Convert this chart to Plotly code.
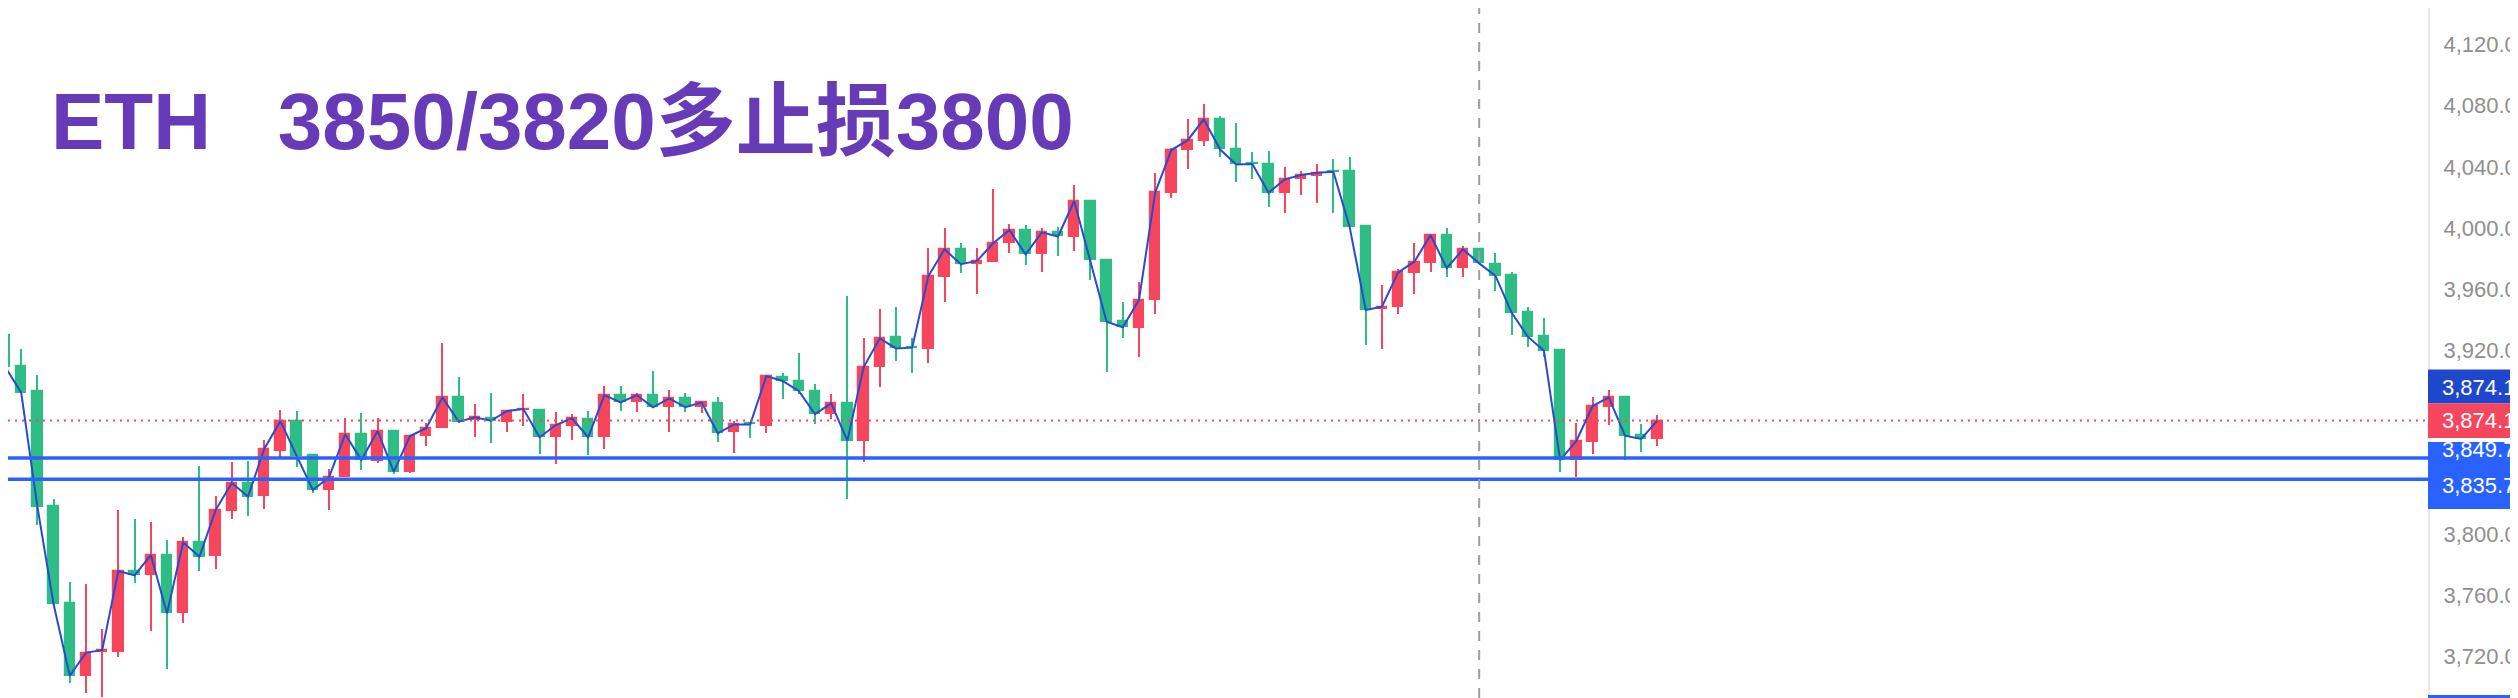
import plotly.graph_objects as go

# ---- data ----
opens = [3930.1, 3909.8, 3893.5, 3818.3, 3754.8, 3707.3, 3723.0, 3723.0, 3775.8, 3772.9,
         3786.2, 3748.1, 3794.5, 3785.8, 3815.2, 3833.3, 3825.0, 3854.2, 3873.8, 3851.6,
         3828.7, 3837.4, 3865.1, 3847.7, 3867.3, 3840.7, 3864.0, 3869.1, 3889.7, 3874.5,
         3875.6, 3873.0, 3881.0, 3881.0, 3863.2, 3870.6, 3875.2, 3863.2, 3890.8, 3886.0,
         3890.8, 3882.8, 3888.6, 3882.8, 3885.4, 3866.9, 3872.3, 3870.6, 3902.8, 3900.0,
         3893.5, 3878.4, 3885.4, 3861.0, 3908.9, 3928.5, 3922.5, 3920.7, 3968.2, 3986.1,
         3976.3, 3978.0, 3990.4, 3998.7, 3982.8, 3997.2, 3994.4, 4017.7, 3979.1, 3939.4,
         3934.9, 3953.0, 4023.1, 4050.8, 4056.9, 4071.1, 4051.5, 4042.5, 4041.6, 4023.1,
         4031.8, 4034.2, 4037.3, 4037.3, 4001.3, 3946.9, 3948.6, 3970.8, 3977.4, 3995.4,
         3973.7, 3986.1, 3976.3, 3969.3, 3944.9, 3929.4, 3920.2, 3848.3, 3860.3, 3883.2,
         3889.3, 3864.7, 3861.9]
highs = [3933.3, 3920.7, 3903.7, 3822.6, 3768.4, 3767.0, 3737.6, 3815.4, 3809.5, 3807.8,
         3796.0, 3798.2, 3844.4, 3824.8, 3846.8, 3847.9, 3861.4, 3881.0, 3880.4, 3852.3,
         3842.2, 3875.6, 3878.8, 3875.6, 3868.0, 3864.7, 3872.7, 3925.0, 3902.4, 3884.7,
         3891.9, 3880.8, 3891.3, 3881.2, 3879.5, 3878.2, 3880.4, 3896.7, 3896.7, 3891.9,
         3906.5, 3894.1, 3891.9, 3887.1, 3889.3, 3874.1, 3873.4, 3903.5, 3905.0, 3918.1,
         3897.8, 3891.3, 3955.6, 3927.9, 3946.8, 3948.1, 3927.9, 3986.7, 3999.8, 3990.0,
         3986.7, 4025.3, 4002.4, 4002.0, 3999.8, 4000.5, 4028.1, 4018.0, 3979.5, 3951.9,
         3965.0, 4035.8, 4052.1, 4071.1, 4081.1, 4073.3, 4068.5, 4049.9, 4050.6, 4040.1,
         4037.5, 4041.6, 4044.9, 4046.7, 4001.3, 3962.8, 3973.0, 3990.0, 3996.1, 3999.8,
         3988.3, 3986.7, 3983.5, 3971.0, 3948.6, 3941.0, 3920.4, 3872.3, 3889.3, 3894.1,
         3890.2, 3871.9, 3877.8]
lows = [3908.5, 3892.0, 3805.8, 3753.5, 3702.7, 3695.8, 3693.2, 3719.3, 3768.1, 3736.8,
        3711.9, 3742.0, 3776.0, 3777.3, 3809.8, 3811.9, 3816.3, 3850.1, 3843.5, 3826.6,
        3815.6, 3837.0, 3841.8, 3846.2, 3839.0, 3840.0, 3857.7, 3869.0, 3872.3, 3863.2,
        3859.7, 3866.9, 3870.6, 3852.3, 3845.5, 3861.4, 3851.6, 3855.5, 3880.6, 3879.9,
        3882.6, 3866.9, 3879.9, 3878.8, 3860.3, 3853.1, 3862.9, 3866.2, 3888.0, 3891.3,
        3871.6, 3874.9, 3822.6, 3847.0, 3895.9, 3913.3, 3905.0, 3911.5, 3951.9, 3970.8,
        3956.6, 3977.8, 3983.5, 3975.8, 3971.5, 3981.7, 3985.2, 3966.0, 3906.1, 3927.9,
        3915.9, 3943.6, 4019.4, 4038.4, 4053.6, 4046.2, 4030.3, 4031.9, 4013.5, 4009.6,
        4021.6, 4016.2, 4010.0, 4000.9, 3923.5, 3920.7, 3943.6, 3956.7, 3971.5, 3968.2,
        3968.2, 3976.5, 3959.0, 3930.1, 3922.4, 3915.9, 3840.7, 3837.4, 3852.3, 3871.2,
        3848.3, 3853.8, 3857.5]
closes = [3909.4, 3892.4, 3817.8, 3754.0, 3707.3, 3722.4, 3724.0, 3775.8, 3772.9, 3786.2,
          3748.1, 3794.5, 3785.1, 3815.6, 3833.3, 3824.4, 3855.5, 3873.8, 3851.2, 3828.7,
          3837.0, 3865.1, 3848.3, 3867.3, 3840.7, 3864.0, 3869.1, 3889.3, 3873.4, 3876.2,
          3874.0, 3880.4, 3881.6, 3863.2, 3871.2, 3875.6, 3863.2, 3890.8, 3886.0, 3890.8,
          3882.8, 3888.6, 3882.8, 3886.0, 3865.8, 3871.6, 3871.6, 3903.3, 3900.0, 3893.5,
          3878.4, 3885.4, 3861.0, 3908.9, 3927.9, 3921.3, 3921.8, 3968.6, 3986.1, 3976.3,
          3978.5, 3990.0, 3998.7, 3982.8, 3997.2, 3994.5, 4017.7, 3979.1, 3938.8, 3935.1,
          3953.0, 4023.3, 4051.0, 4057.3, 4071.1, 4051.5, 4041.6, 4041.8, 4023.1, 4031.8,
          4034.7, 4036.2, 4036.8, 4000.9, 3946.4, 3948.6, 3971.0, 3978.0, 3995.4, 3973.7,
          3986.1, 3976.9, 3968.9, 3944.7, 3929.0, 3919.8, 3848.3, 3860.8, 3883.6, 3889.3,
          3864.2, 3862.1, 3874.1]
bar_index = list(range(1, len(closes) + 1))

level_lines = [3849.7, 3835.7]          # blue horizontal levels
marker_bar = 92                          # vertical dashed marker
tick_values = [3720, 3760, 3800, 3920, 3960, 4000, 4040, 4080, 4120]
title_text = "ETH\u00a0\u00a0\u00a03850/3820多止损3800"

# ---- styles ----
UP = "#F6465D"      # rising candles are red
DOWN = "#2EBD85"    # falling candles are green
LINE_BLUE = "#2A4AD4"
LEVEL_BLUE = "#2962FF"
LABEL_DARK = "#1F47CC"
AXIS_FONT = "Liberation Sans, Arial, sans-serif"

# the page body adds an 8 px margin; the figure is sized so it still ends at the window edge
W, H = 2510, 690
PLOT_W = W - 90

colors = [UP if c >= o else DOWN for o, c in zip(opens, closes)]
body_base = [min(o, c) for o, c in zip(opens, closes)]
body_len = [abs(c - o) for o, c in zip(opens, closes)]
wick_len = [h - l for h, l in zip(highs, lows)]

fig = go.Figure()
fig.add_trace(go.Bar(
    x=bar_index, y=wick_len, base=lows, width=0.13,
    marker=dict(color=colors, line=dict(width=0)),
    showlegend=False, hoverinfo="skip",
))
fig.add_trace(go.Bar(
    x=bar_index, y=body_len, base=body_base, width=0.64,
    marker=dict(color=colors, line=dict(color=colors, width=1.2)),
    showlegend=False, hoverinfo="skip",
))
fig.add_trace(go.Scatter(
    x=bar_index, y=closes, mode="lines",
    line=dict(color=LINE_BLUE, width=2), showlegend=False, hoverinfo="skip",
))

last = closes[-1]
shapes = []
shapes.append(dict(type="line", xref="paper", x0=0, x1=1, yref="y", y0=last, y1=last,
                   line=dict(color=UP, width=2, dash="2px,5px"), layer="above"))
for lv in level_lines:
    shapes.append(dict(type="line", xref="paper", x0=0, x1=1, yref="y", y0=lv, y1=lv,
                       line=dict(color=LEVEL_BLUE, width=3.5), layer="above"))
shapes.append(dict(type="line", xref="x", x0=marker_bar, x1=marker_bar, yref="paper", y0=0, y1=1,
                   line=dict(color="#9E9E9E", width=2, dash="10px,9px"), layer="above"))
shapes.append(dict(type="rect", xref="paper", x0=1.0, x1=1.06, yref="y", ysizemode="pixel",
                   yanchor=last, y0=17, y1=51, fillcolor=LABEL_DARK, line=dict(width=0), layer="above"))
shapes.append(dict(type="rect", xref="paper", x0=1.0, x1=1.06, yref="y", ysizemode="pixel",
                   yanchor=last, y0=-17.5, y1=17, fillcolor=UP, line=dict(width=0), layer="above"))
shapes.append(dict(type="rect", xref="paper", x0=1.0, x1=1.06, yref="y", ysizemode="pixel",
                   yanchor=level_lines[0], y0=-51, y1=16, fillcolor=LEVEL_BLUE, line=dict(width=0), layer="above"))
shapes.append(dict(type="rect", xref="paper", x0=1.0, x1=1.06, yref="paper", y0=0, y1=3 / H,
                   fillcolor=LEVEL_BLUE, line=dict(width=0), layer="above"))

label_x = 1 + 12 / PLOT_W
lab_font = dict(family=AXIS_FONT, size=22, color="white")
annotations = [
    dict(xref="paper", x=label_x, xanchor="left", yref="y", y=last, yshift=33.5,
         text=f"{last:,.1f}", showarrow=False, font=lab_font),
    dict(xref="paper", x=label_x, xanchor="left", yref="y", y=last, yshift=0,
         text=f"{last:,.1f}", showarrow=False, font=lab_font),
    dict(xref="paper", x=label_x, xanchor="left", yref="y", y=level_lines[0], yshift=8,
         text=f"{level_lines[0]:,.1f}", showarrow=False, font=lab_font),
    dict(xref="paper", x=label_x, xanchor="left", yref="y", y=level_lines[1], yshift=-6.5,
         text=f"{level_lines[1]:,.1f}", showarrow=False, font=lab_font),
    dict(xref="paper", x=41 / PLOT_W, xanchor="left", yref="paper", y=1 - 113 / H, yanchor="middle",
         text=f"<b>{title_text}</b>", showarrow=False,
         font=dict(family="Liberation Sans, Arial, Noto Sans CJK SC, sans-serif", size=80, color="#673AB7")),
]

fig.update_layout(
    width=W, height=H,
    margin=dict(l=0, r=90, t=0, b=0, autoexpand=False),
    paper_bgcolor="white", plot_bgcolor="white",
    barmode="overlay", bargap=0,
    shapes=shapes, annotations=annotations,
    xaxis=dict(range=[1.185, 150.57], visible=False, fixedrange=True),
    yaxis=dict(range=[3692.73, 4143.86], side="right", tickvals=tick_values, tickformat=",.1f",
               showgrid=False, zeroline=False, showline=True, linecolor="#E8E8E8", linewidth=2,
               ticks="", ticklabelstandoff=9, automargin=False,
               tickfont=dict(family=AXIS_FONT, size=22, color="#8F8F8F")),
)

fig.write_html("out.html")
